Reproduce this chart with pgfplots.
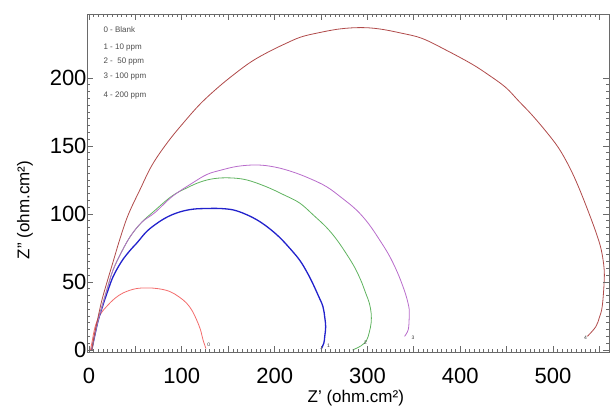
\documentclass[border=0pt]{standalone}
\usepackage{pgfplots}
\pgfplotsset{compat=1.18}
\usepackage{fontspec}
\setmainfont{Liberation Sans}
\definecolor{c0}{HTML}{F36C6C}
\definecolor{c1}{HTML}{2222CC}
\definecolor{c2}{HTML}{5FB35F}
\definecolor{c3}{HTML}{B86CCB}
\definecolor{c4}{HTML}{B04A4A}
\definecolor{axgray}{HTML}{6A6A6A}
\tikzset{legtxt/.style={anchor=west, font=\fontsize{8bp}{9bp}\selectfont, text=black!70},
         endtxt/.style={font=\fontsize{5bp}{6bp}\selectfont, text=black!80, inner sep=0pt}}
\begin{document}
\begin{tikzpicture}
\begin{axis}[name=ax, scale only axis, width=522bp, height=338bp, axis on top,
  xmin=-2.2, xmax=560.3, ymin=-1.5, ymax=247,
  xtick={0,50,...,550}, xticklabels={0,,100,,200,,300,,400,,500,},
  ytick={0,50,...,200},
  minor x tick num=9, minor y tick num=9,
  xtick align=inside, ytick align=inside,
  xtick pos=both, ytick pos=both,
  major tick length=6bp, minor tick length=3bp,
  axis line style={axgray, line width=0.6pt},
  major tick style={axgray, line width=0.8pt},
  minor tick style={axgray, line width=0.6pt},
  /pgf/number format/assume math mode=true,
  ticklabel style={font=\fontsize{22bp}{26bp}\selectfont},
  xticklabel style={yshift=-13bp},
  yticklabel style={xshift=3bp},
  xlabel={Z\symbol{39} (ohm.cm²)},
  ylabel={Z\symbol{34} (ohm.cm²)},
  xlabel style={at={(rel axis cs:0.515,-0.136)}, anchor=center, font=\fontsize{17bp}{20bp}\selectfont},
  ylabel style={at={(rel axis cs:-0.1188,0.42)}, anchor=center, font=\fontsize{17bp}{20bp}\selectfont},
]
% 0 - Blank
\addplot[c0, smooth, tension=0.6, no markers, line width=0.8bp] coordinates {(1.5,0) (3,5) (6.5,17) (12,26) (19,32) (28,38) (37,42) (50,45) (63,45.6) (75,45) (87,43) (97,39) (105,34.5) (111,29) (116,22) (120,15) (123,7) (126,1)};
% 1 - 10 ppm
\addplot[c1, smooth, tension=0.6, no markers, line width=1.3bp] coordinates {(3,0) (6,10) (10,22) (15,33) (20,43) (26,54) (35,65) (44,73) (52,79) (62,87) (73,93) (85,98) (98,101.5) (112,103.5) (127,104) (141,104) (155,103) (168,100) (181,95.6) (193,90) (205,83) (216,75) (227,66) (235,57) (241,49) (247,40) (252,32) (254,24) (255,17) (254,10) (253,5) (250,0.5)};
% 2 - 50 ppm
\addplot[c2, smooth, tension=0.6, no markers, line width=0.8bp] coordinates {(3,0) (8,17) (14,32) (20,46) (26,59) (35,72) (45,84) (57,94) (70,102) (89,113) (105,119) (120,123.5) (135,126) (152,126.5) (170,125) (191,120) (210,114) (227,108) (242,99) (256,90) (267,81) (277,71) (286,61) (293,51) (298,42) (302,34.5) (304,27) (304,20) (302,13) (299,7) (293,3) (284,0)};
% 3 - 100 ppm
\addplot[c3, smooth, tension=0.6, no markers, line width=0.8bp] coordinates {(3,0) (8,17) (14,32) (20,46) (26,59) (35,72) (45,84) (57,94) (71,101) (90,113) (112,123) (127,129) (141,132) (160,135) (181,136) (200,134.5) (219,131) (238,126) (256,120) (272,112) (288,103) (301,93) (313,81) (323,70) (331,59) (337,49) (342,39) (345,30) (345,24) (344,15) (340,10)};
% 4 - 200 ppm
\addplot[c4, smooth, tension=0.6, no markers, line width=0.8bp] coordinates {(3,0) (6,12) (10,25) (14,37) (19,49) (26,65) (33,81) (42,99) (55,118) (68,136) (85,153) (103,168) (120,181) (139,193) (157,203) (175,212) (193,219) (211,225) (228,230) (246,233) (270,236) (293,237) (313,236) (336,233) (359,229) (386,220) (413,210) (431,202) (449,193) (463,183) (477,173) (492,161) (506,148.5) (518,134) (528,119) (539,100) (547,85) (552,73.5) (555,60) (555,49) (553,32) (550,24) (546,17) (537,10)};
% legend text
\node[legtxt] at (rel axis cs:0.025,0.953) {0 - Blank};
\node[legtxt] at (rel axis cs:0.025,0.902) {1 - 10 ppm};
\node[legtxt] at (rel axis cs:0.025,0.858) {2 -\ \ 50 ppm};
\node[legtxt] at (rel axis cs:0.025,0.814) {3 - 100 ppm};
\node[legtxt] at (rel axis cs:0.025,0.760) {4 - 200 ppm};
% curve end labels
\node[endtxt] at (axis cs:129,3.5) {0};
\node[endtxt] at (axis cs:258,3) {1};
\node[endtxt] at (axis cs:298,5) {2};
\node[endtxt] at (axis cs:349,9) {3};
\node[endtxt] at (axis cs:535,9) {4};
\end{axis}
\path ([shift={(-87bp,-57bp)}]ax.south west) rectangle ([shift={(3bp,14bp)}]ax.north east);
\end{tikzpicture}
\end{document}
